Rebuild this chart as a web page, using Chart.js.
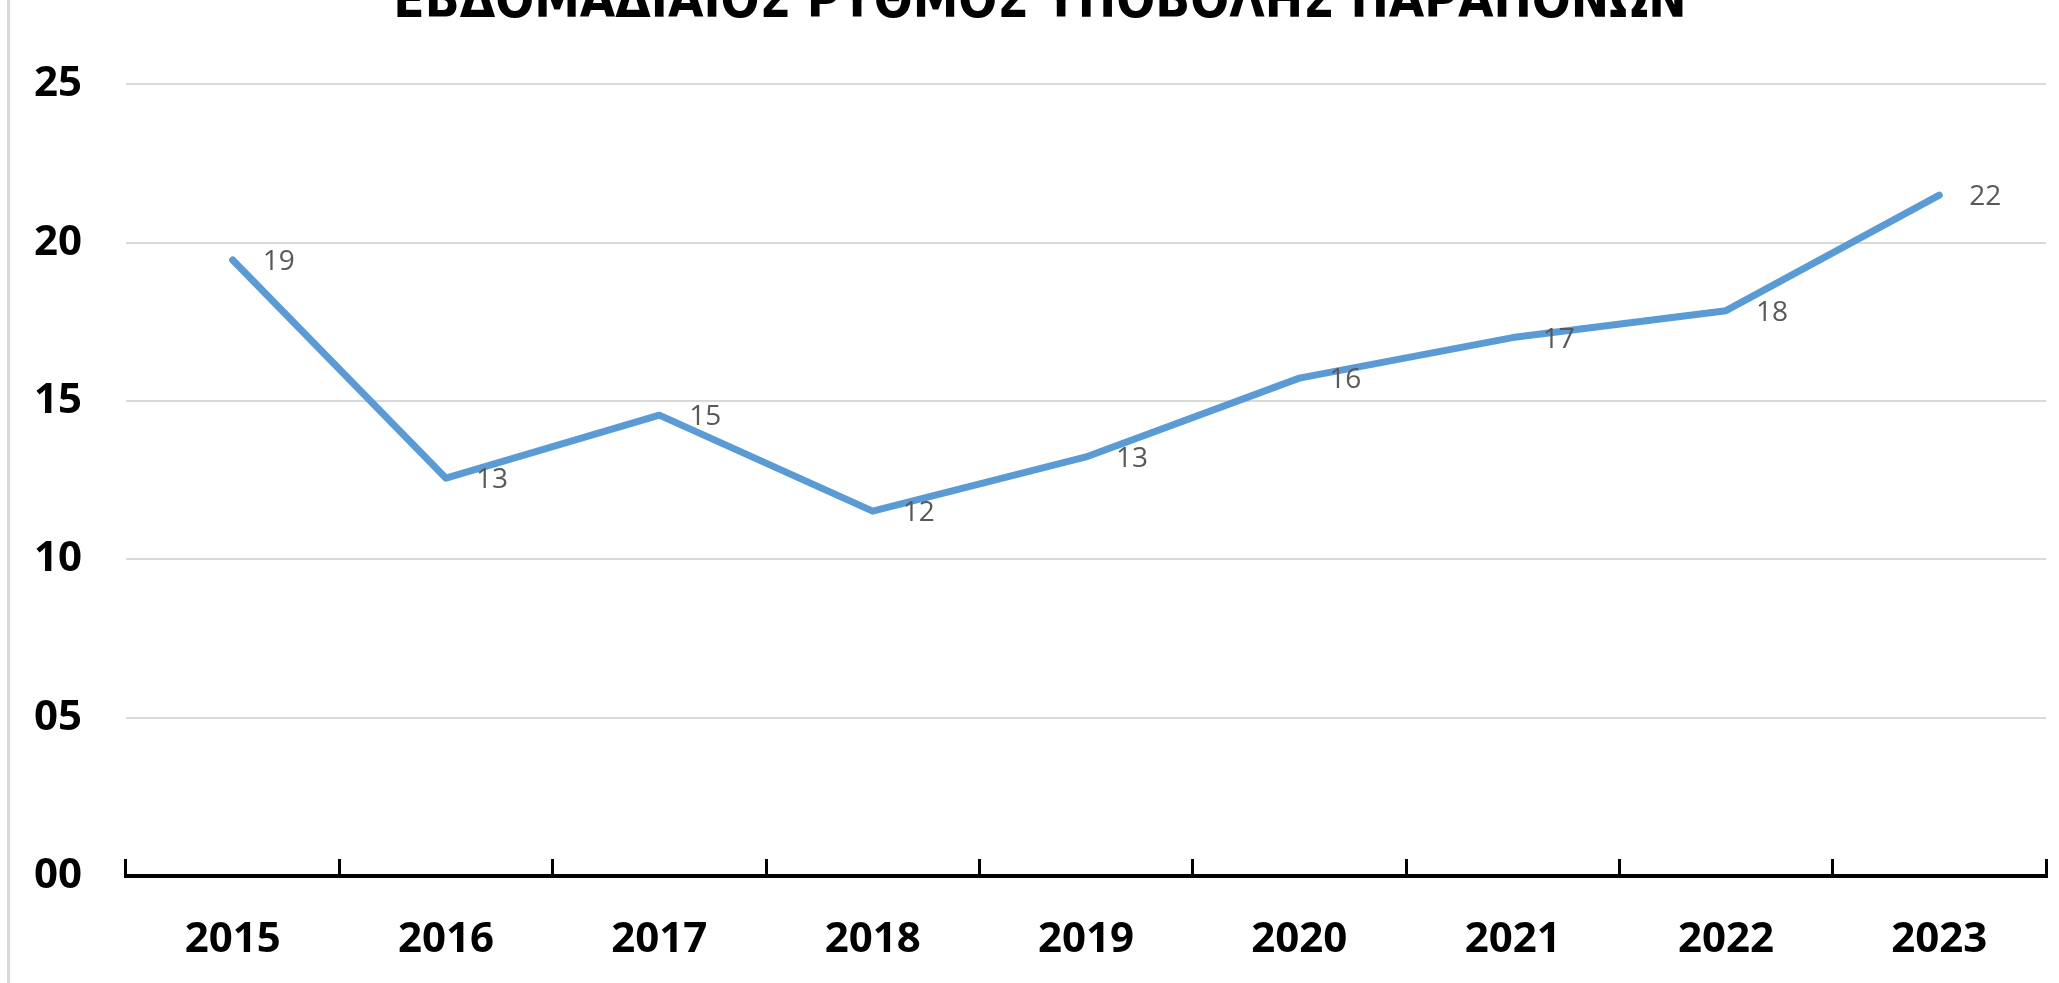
<!DOCTYPE html>
<html>
<head>
<meta charset="utf-8">
<script src="https://cdn.jsdelivr.net/npm/chart.js@4.4.0/dist/chart.umd.min.js"></script>
<style>
  html, body { margin: 0; padding: 0; background: #fff; }
  #wrap { position: relative; width: 2059px; height: 983px; overflow: hidden; }
  #edge { position: absolute; left: 7px; top: 0; width: 3px; height: 983px; background: #d9d9d9; }
  #chart { position: absolute; left: 0; top: -37px; }
</style>
</head>
<body>
<div id="wrap">
  <div id="edge"></div>
  <canvas id="chart" width="2059" height="1020"></canvas>
</div>
<script>
// dados
const anos = ['2015', '2016', '2017', '2018', '2019', '2020', '2021', '2022', '2023'];
const ritmoSemanal = [19.45, 12.56, 14.55, 11.52, 13.23, 15.72, 17.0, 17.85, 21.5];
const titulo = 'ΕΒΔΟΜΑΔΙΑΙΟΣ ΡΥΘΜΟΣ ΥΠΟΒΟΛΗΣ ΠΑΡΑΠΟΝΩΝ';

// rótulos de valor à direita de cada ponto
const rotulos = {
    id: 'rotulos',
    afterDatasetsDraw(chart) {
        const ctx = chart.ctx;
        const meta = chart.getDatasetMeta(0);
        ctx.save();
        ctx.font = '28px "Open Sans"';
        ctx.fillStyle = '#595959';
        ctx.textAlign = 'left';
        ctx.textBaseline = 'middle';
        meta.data.forEach((p, i) => {
            ctx.fillText(String(Math.round(ritmoSemanal[i])), p.x + 30, p.y + 2);
        });
        ctx.restore();
    }
};

new Chart(document.getElementById('chart'), {
    type: 'line',
    data: {
        labels: anos,
        datasets: [{
            data: ritmoSemanal,
            borderColor: '#5B9BD5',
            borderWidth: 7,
            borderCapStyle: 'round',
            borderJoinStyle: 'round',
            pointRadius: 0,
            tension: 0,
            fill: false
        }]
    },
    options: {
        responsive: false,
        animation: false,
        layout: { padding: { left: 34, right: 13, top: 0, bottom: 0 } },
        plugins: {
            legend: { display: false },
            tooltip: { enabled: false },
            title: {
                display: true,
                text: titulo,
                color: '#000',
                font: { family: '"Liberation Sans Narrow", "DejaVu Sans Condensed", sans-serif', size: 51, weight: 'bold' },
                padding: { top: 10, bottom: 50 }
            }
        },
        scales: {
            x: {
                offset: true,
                afterFit: s => { s.height = 107; },
                grid: {
                    offset: true,
                    drawOnChartArea: false,
                    color: '#000',
                    lineWidth: 3,
                    tickLength: -17
                },
                border: { display: true, color: '#000', width: 4 },
                ticks: {
                    color: '#000',
                    font: { family: '"Open Sans"', size: 42, weight: 'bold' },
                    padding: 56,
                    maxRotation: 0,
                    autoSkip: false
                }
            },
            y: {
                min: 0,
                max: 25,
                afterFit: s => { s.width = 92; },
                grid: { color: '#d9d9d9', lineWidth: 2, drawTicks: false },
                border: { display: false },
                ticks: {
                    stepSize: 5,
                    color: '#000',
                    font: { family: '"Open Sans"', size: 42, weight: 'bold' },
                    padding: 44,
                    callback: v => String(v).padStart(2, '0')
                }
            }
        }
    },
    plugins: [rotulos]
});
</script>
</body>
</html>
